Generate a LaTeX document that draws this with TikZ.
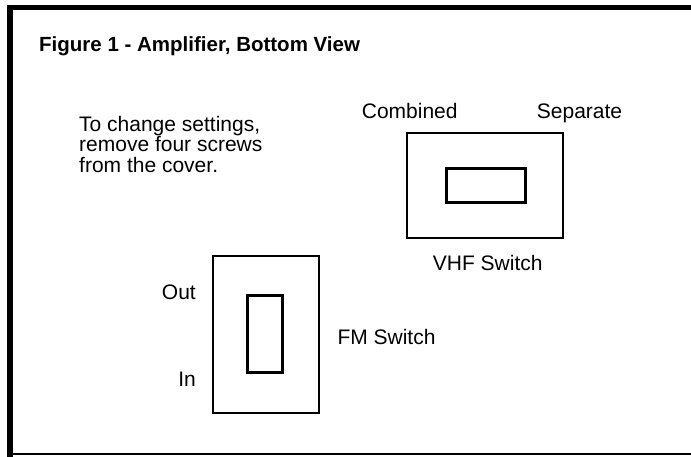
\documentclass[tikz,border=0pt]{standalone}
\usepackage{fontspec}
\setmainfont{Liberation Sans}

\begin{document}
\begin{tikzpicture}[
    x = 1pt, y = -1pt,
    line join=miter,
    outerbox/.style = {line width=2pt},
    innerbox/.style = {line width=3pt},
    lbl/.style = {inner sep=0pt, font=\fontsize{21}{20.5}\selectfont},
    ttl/.style = {inner sep=0pt, font=\fontsize{20.5}{20.5}\selectfont\bfseries}
]

\useasboundingbox (0, 0) rectangle (691, 457);

% frame
\draw[line width=6pt] (10, 5) -- (10, 457);
\draw[line width=5pt] (7, 7.5) -- (691, 7.5);
\draw[line width=2.5pt] (7, 454) -- (691, 454);

% title and note
\node[ttl, anchor=base west] (title) at (39, 52) {Figure 1 - Amplifier, Bottom View};
\node[lbl, anchor=north west, align=left] (note) at (79, 116)
    {To change settings,\\remove four screws\\from the cover.};

% VHF switch
\coordinate (1) at (406.7, 133.3);
\coordinate (2) at (562.7, 238.3);
\coordinate (3) at (446.7, 168.3);
\coordinate (4) at (525, 202.7);
\draw[outerbox] (1) rectangle (2);
\draw[innerbox] (3) rectangle (4);
\node[lbl, anchor=base west] (comb) at (361.7, 119) {Combined};
\node[lbl, anchor=base west] (sep) at (536.7, 119) {Separate};
\node[lbl, anchor=base west] (vhf) at (432.7, 271) {VHF Switch};

% FM switch
\coordinate (5) at (212.7, 255.7);
\coordinate (6) at (319.3, 412.7);
\coordinate (7) at (247.7, 295);
\coordinate (8) at (282.3, 372.7);
\draw[outerbox] (5) rectangle (6);
\draw[innerbox] (7) rectangle (8);
\node[lbl, anchor=base east] (out) at (196, 299) {Out};
\node[lbl, anchor=base east] (in) at (196, 386.5) {In};
\node[lbl, anchor=base west] (fm) at (337.3, 344) {FM Switch};

\end{tikzpicture}
\end{document}
